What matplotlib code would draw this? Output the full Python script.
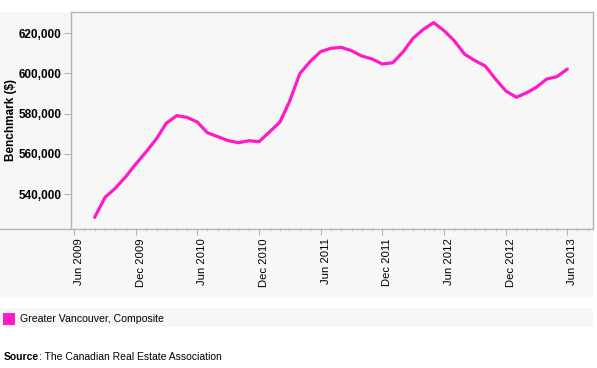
import datetime as dt
import matplotlib
matplotlib.use("Agg")
import matplotlib.pyplot as plt
import matplotlib.dates as mdates
from matplotlib.patches import Rectangle
from matplotlib.lines import Line2D

plt.rcParams['font.family'] = ['Liberation Sans', 'DejaVu Sans']

# ---- data ----
start_year, start_month = 2009, 8
values = [528400, 538400, 542850, 548600, 554950,
          561100, 567700, 575200, 579000, 578200, 575850, 570500, 568550, 566550, 565550, 566550, 566050,
          570900, 575850, 586000, 600000, 605900, 610850, 612500, 613000, 611350, 608700, 607200, 604700,
          605350, 610850, 617500, 622000, 625300, 621300, 616300, 609550, 606350, 603700, 597100, 591300,
          588150, 590450, 593100, 597250, 598400, 602200]
dates = []
y, m = start_year, start_month
for _ in values:
    dates.append(dt.date(y, m, 1))
    m += 1
    if m > 12:
        m = 1
        y += 1

yticks = [540000, 560000, 580000, 600000, 620000]
xtick_dates = [dt.date(2009, 6, 1), dt.date(2009, 12, 1), dt.date(2010, 6, 1), dt.date(2010, 12, 1),
               dt.date(2011, 6, 1), dt.date(2011, 12, 1), dt.date(2012, 6, 1), dt.date(2012, 12, 1),
               dt.date(2013, 6, 1)]
series_name = "Greater Vancouver, Composite"
ylabel = "Benchmark ($)"
source = "The Canadian Real Estate Association"

LINE = '#ff1ac6'
GRAY = '#f7f7f7'
SPINE = '#b4b4b4'

W, H = 597, 368
fig = plt.figure(figsize=(W / 100, H / 100), dpi=100)
fig.patch.set_facecolor('white')

def fx(px):
    return px / W

def fy(py):
    return 1 - py / H

# gray panels (behind axes)
fig.add_artist(Rectangle((0, fy(298)), fx(593), fy(12) - fy(298), transform=fig.transFigure,
                         facecolor=GRAY, edgecolor='none', zorder=-5))
fig.add_artist(Rectangle((0, fy(327)), fx(593), fy(308) - fy(327), transform=fig.transFigure,
                         facecolor=GRAY, edgecolor='none', zorder=-5))

ax = fig.add_axes([fx(71), fy(228), fx(593) - fx(71), fy(12) - fy(228)])
ax.set_facecolor(GRAY)
ax.plot(dates, values, color=LINE, lw=2.3, solid_joinstyle='round', solid_capstyle='round')

ax.set_ylim(523100, 630600)
ax.set_xlim(dt.date(2009, 5, 23), dt.date(2013, 8, 16))
ax.set_yticks(yticks)
ax.set_yticklabels([f"{v:,}" for v in yticks], fontweight='bold', fontsize=8.5)
ax.set_xticks(xtick_dates)
ax.set_xticklabels([d.strftime('%b %Y') for d in xtick_dates], rotation=90, fontsize=8.1,
                   ha='left')
ax.xaxis.set_minor_locator(mdates.MonthLocator())
ax.tick_params(axis='x', which='major', length=5, color=SPINE, pad=2.5)
ax.tick_params(axis='x', which='minor', length=2, color=SPINE)
ax.tick_params(axis='y', which='major', length=5, color=SPINE, pad=2)
ax.set_ylabel(ylabel, fontweight='bold', fontsize=8.5, labelpad=1)
for s in ax.spines.values():
    s.set_color(SPINE)
    s.set_linewidth(1)
ax.spines['bottom'].set_visible(False)

fig.add_artist(Line2D([0, fx(593)], [fy(228.5), fy(228.5)], transform=fig.transFigure,
                      color=SPINE, lw=1, zorder=5))

# legend
fig.add_artist(Rectangle((fx(3), fy(325)), fx(12), fy(313) - fy(325), transform=fig.transFigure,
                         facecolor=LINE, edgecolor='none'))
fig.text(fx(19.5), fy(319), series_name, fontsize=7.6, va='center', ha='left')

# source
t1 = fig.text(fx(3.5), fy(357), "Source", fontsize=7.5, fontweight='bold', va='center', ha='left')
fig.canvas.draw()
bb = t1.get_window_extent()
fig.text(bb.x1 / W, fy(357), ": " + source, fontsize=7.5, va='center', ha='left')

fig.savefig("out.png", dpi=100)
